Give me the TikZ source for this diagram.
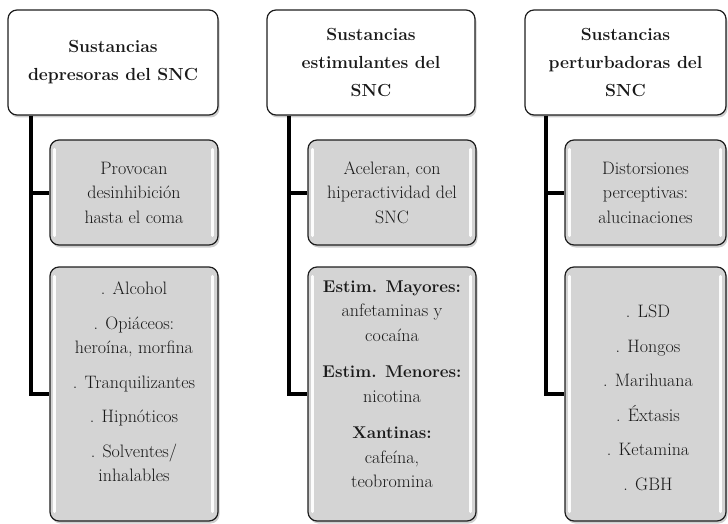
\documentclass[tikz,border=0pt]{standalone}
\usetikzlibrary{shadows}
\definecolor{boxgray}{RGB}{212,212,212}
\definecolor{edge}{RGB}{30,30,30}
\begin{document}
\begin{tikzpicture}[x=1pt,y=-1pt,
  topbox/.style={draw=edge, line width=1.2pt, rounded corners=9pt, fill=white,
    inner sep=0pt, drop shadow={shadow xshift=1.5pt, shadow yshift=-2.5pt, opacity=0.35, fill=black!55}},
  graybox/.style={draw=edge, line width=1.2pt, rounded corners=9pt, fill=boxgray,
    inner sep=0pt, drop shadow={shadow xshift=1.5pt, shadow yshift=-2.5pt, opacity=0.35, fill=black!55}},
  conn/.style={line width=4pt, black},
  toptext/.style={font=\fontsize{17.5}{28}\selectfont\bfseries, align=center, text=black!90},
  bodytext/.style={font=\fontsize{18}{24.5}\selectfont, align=center, text=black!90},
  bevel/.style={line width=3pt, white, line cap=round, opacity=0.95},
]
\useasboundingbox (0,0) rectangle (728,524);

% ---------- Column 1 ----------
\node[topbox, minimum width=210pt, minimum height=105pt] (t1) at (113,62.5) {};
\node[toptext] (t1txt) at (t1.center) {Sustancias\\depresoras del SNC};
\node[graybox, minimum width=168pt, minimum height=105pt] (g11) at (134,192.5) {};
\node[graybox, minimum width=168pt, minimum height=254pt] (g12) at (134,394) {};

% ---------- Column 2 ----------
\node[topbox, minimum width=208pt, minimum height=105pt] (t2) at (371,62.5) {};
\node[toptext] (t2txt) at (t2.center) {Sustancias\\estimulantes del\\SNC};
\node[graybox, minimum width=168pt, minimum height=105pt] (g21) at (392,192.5) {};
\node[graybox, minimum width=168pt, minimum height=254pt] (g22) at (392,394) {};

% ---------- Column 3 ----------
\node[topbox, minimum width=201pt, minimum height=105pt] (t3) at (625.5,62.5) {};
\node[toptext] (t3txt) at (t3.center) {Sustancias\\perturbadoras del\\SNC};
\node[graybox, minimum width=161pt, minimum height=105pt] (g31) at (645.5,192.5) {};
\node[graybox, minimum width=161pt, minimum height=254pt] (g32) at (645.5,394) {};

% ---------- bevel highlights ----------
\foreach \b in {g11,g12,g21,g22,g31,g32}{
  \draw[bevel] ([xshift=5pt,yshift=-10pt]\b.north west) -- ([xshift=5pt,yshift=10pt]\b.south west);
  \draw[bevel] ([xshift=-6pt,yshift=-10pt]\b.north east) -- ([xshift=-6pt,yshift=10pt]\b.south east);
}

% ---------- texts of grey boxes ----------
\node[bodytext] (g11txt) at (g11.center) {Provocan\\desinhibición\\hasta el coma};
\node[bodytext] (g12txt) at (134,382) {. Alcohol\\[10pt]. Opiáceos:\\heroína, morfina\\[10pt]. Tranquilizantes\\[10pt]. Hipnóticos\\[10pt]. Solventes/\\inhalables};

\node[bodytext] (g21txt) at (g21.center) {Aceleran, con\\hiperactividad del\\SNC};
\node[bodytext] (g22txt) at (392,384) {{\fontsize{17}{24.5}\selectfont\bfseries Estim. Mayores:}\\anfetaminas y\\cocaína\\[12pt]{\fontsize{17}{24.5}\selectfont\bfseries Estim. Menores:}\\nicotina\\[12pt]{\fontsize{17}{24.5}\selectfont\bfseries Xantinas:}\\cafeína,\\teobromina};

\node[bodytext] (g31txt) at (g31.center) {Distorsiones\\perceptivas:\\alucinaciones};
\node[bodytext] (g32txt) at (648,398) {. LSD\\[10pt]. Hongos\\[10pt]. Marihuana\\[10pt]. Éxtasis\\[10pt]. Ketamina\\[10pt]. GBH};

% ---------- connectors ----------
\coordinate (v1) at ([xshift=24pt]t1.south west);
\coordinate (v2) at ([xshift=23pt]t2.south west);
\coordinate (v3) at ([xshift=22pt]t3.south west);
\draw[conn] (v1) |- (g12.west);
\draw[conn] (v1 |- g11.west) -- (g11.west);
\draw[conn] (v2) |- (g22.west);
\draw[conn] (v2 |- g21.west) -- (g21.west);
\draw[conn] (v3) |- (g32.west);
\draw[conn] (v3 |- g31.west) -- (g31.west);
\end{tikzpicture}
\end{document}
